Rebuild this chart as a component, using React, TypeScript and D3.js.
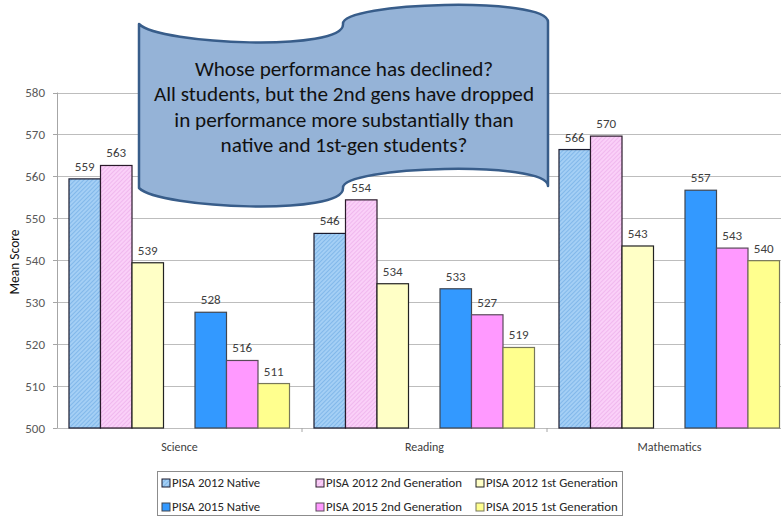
import React from "react";
import * as d3 from "d3";

const categories = ["Science", "Reading", "Mathematics"];
const native2012 = [559.4, 546.4, 566.4];
const second2012 = [562.6, 554.4, 569.6];
const first2012 = [539.4, 534.4, 543.4];
const native2015 = [527.6, 533.2, 556.7];
const second2015 = [516.1, 527.0, 542.9];
const first2015 = [510.6, 519.2, 539.9];
const seriesNames = [
  "PISA 2012 Native",
  "PISA 2012 2nd Generation",
  "PISA 2012 1st Generation",
  "PISA 2015 Native",
  "PISA 2015 2nd Generation",
  "PISA 2015 1st Generation",
];
const yTicks = [500, 510, 520, 530, 540, 550, 560, 570, 580];
const calloutLines = [
  "Whose performance has declined?",
  "All students, but the 2nd gens have dropped",
  "in performance more substantially than",
  "native and 1st-gen students?",
];

const W = 781;
const H = 517;
const FONT = "Carlito, Calibri, Lato, 'Open Sans', sans-serif";

const seriesData = [native2012, second2012, first2012, native2015, second2015, first2015];
const seriesFill = [
  "url(#hatchBlue)",
  "url(#hatchPink)",
  "#FFFFC6",
  "#3399FF",
  "#FF99FF",
  "#FFFF8E",
];
const seriesStroke = ["#1a1a2e", "#2a1a2a", "#222", "#404650", "#5a4a5a", "#77775a"];
const slotOf = [0, 1, 2, 4, 5, 6];

export default function App() {
  const x0 = d3.scaleBand<string>().domain(categories).range([57, 57 + 3 * 245]).padding(0);
  const slot = d3.scaleBand<number>().domain(d3.range(7)).range([12, 12 + 7 * 31.5]).padding(0);
  const y = d3.scaleLinear().domain([500, 580]).range([428, 92.5]);
  const fmt = d3.format(".0f");
  const plotLeft = 57;

  const legendCols = [162, 316, 476];
  const legendRows = [483, 507];

  const calloutPath =
    "M139,24 C160,45 345,52 343,24 C341,2 548,-4 548,22 L548,186 " +
    "C548,160 341,166 343,188 C345,216 160,209 139,188 Z";

  return (
    <svg
      width={W}
      height={H}
      style={{ position: "absolute", left: 0, top: 0, display: "block", background: "#fff" }}
      fontFamily={FONT}
    >
      <defs>
        <pattern id="hatchBlue" width={3} height={3} patternUnits="userSpaceOnUse" patternTransform="rotate(45)">
          <rect width={3} height={3} fill="#A4CFF5" />
          <line x1={0} y1={0} x2={0} y2={3} stroke="#74AEE6" strokeWidth={1.4} />
        </pattern>
        <pattern id="hatchPink" width={3} height={3} patternUnits="userSpaceOnUse" patternTransform="rotate(45)">
          <rect width={3} height={3} fill="#FAD0F8" />
          <line x1={0} y1={0} x2={0} y2={3} stroke="#ECAEEB" strokeWidth={1.4} />
        </pattern>
      </defs>

      {yTicks.map((t) => (
        <line key={"g" + t} x1={plotLeft} x2={W} y1={Math.round(y(t)) + 0.5} y2={Math.round(y(t)) + 0.5} stroke="#BDBDBD" strokeWidth={1} />
      ))}
      <line x1={plotLeft + 0.5} x2={plotLeft + 0.5} y1={y(580)} y2={y(500)} stroke="#A6A6A6" />
      {yTicks.map((t) => (
        <g key={"t" + t}>
          <line x1={plotLeft - 4} x2={plotLeft} y1={Math.round(y(t)) + 0.5} y2={Math.round(y(t)) + 0.5} stroke="#A6A6A6" />
          <text x={45} y={y(t)} dy="0.35em" textAnchor="end" fontSize={13} fill="#595959">
            {t}
          </text>
        </g>
      ))}
      <text transform={`translate(14,${262}) rotate(-90)`} textAnchor="middle" fontSize={13.5} fill="#111" dy="0.35em">
        Mean Score
      </text>

      {categories.slice(1).map((c) => (
        <line key={"ct" + c} x1={x0(c)!} x2={x0(c)!} y1={y(500)} y2={y(500) + 4} stroke="#A6A6A6" />
      ))}

      {categories.map((c, ci) => (
        <g key={c}>
          {seriesData.map((arr, si) => {
            const bx = x0(c)! + slot(slotOf[si])!;
            const bw = slot.bandwidth();
            const top = y(arr[ci]);
            return (
              <g key={si}>
                <rect x={bx} y={top} width={bw} height={y(500) - top} fill={seriesFill[si]} stroke={seriesStroke[si]} strokeWidth={1.2} />
                <text x={bx + bw / 2} y={top - 8} textAnchor="middle" fontSize={13} fill="#404040">
                  {fmt(arr[ci])}
                </text>
              </g>
            );
          })}
          <text x={x0(c)! + x0.bandwidth() / 2} y={451} textAnchor="middle" fontSize={12} fill="#404040">
            {c}
          </text>
        </g>
      ))}

      <rect x={157.5} y={471.5} width={465} height={44} fill="#fff" stroke="#8C8C8C" />
      {seriesNames.map((n, i) => {
        const col = i % 3;
        const row = Math.floor(i / 3);
        const lx = legendCols[col];
        const ly = legendRows[row];
        return (
          <g key={n}>
            <rect x={lx} y={ly - 4} width={8} height={8} fill={seriesFill[i]} stroke={seriesStroke[i]} strokeWidth={1} />
            <text x={lx + 10} y={ly} dy="0.35em" fontSize={12.8} fill="#262626">
              {n}
            </text>
          </g>
        );
      })}

      <path d={calloutPath} fill="#95B3D7" stroke="#385D8A" strokeWidth={2.5} strokeLinejoin="round" />
      {calloutLines.map((l, i) => (
        <text key={i} x={344} y={76 + i * 25.3} textAnchor="middle" fontSize={21.2} fill="#111">
          {l}
        </text>
      ))}
    </svg>
  );
}
